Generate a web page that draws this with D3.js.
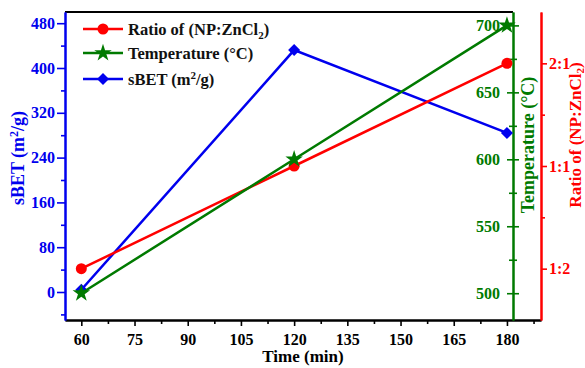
<!DOCTYPE html>
<html>
<head>
<meta charset="utf-8">
<script src="https://cdn.jsdelivr.net/npm/d3@7"></script>
<style>
  body { margin: 0; background: #fff; }
  svg text { font-family: "Liberation Serif", "Times New Roman", serif; font-weight: bold; }
  .domain { stroke-width: 2; }
  .tick line { stroke-width: 1.6; }
</style>
</head>
<body>
<svg id="chart" width="585" height="368"></svg>
<script>
'use strict';

// values
var times = [60, 120, 180];
var sbet = [4, 432, 284];
var temperature = [500, 600, 700];
var ratio = ['1:2', '1:1', '2:1'];
var ratioLevels = ['1:2', '1:1', '2:1'];

var timeTicks = [60, 75, 90, 105, 120, 135, 150, 165, 180];
var sbetTicks = [0, 80, 160, 240, 320, 400, 480];
var tempTicks = [500, 550, 600, 650, 700];

var RED = '#ff0000', GREEN = '#007a00', BLUE = '#0000ee';

var svg = d3.select('#chart');

var plotLeft = 65, plotRight = 541, plotTop = 12, plotBottom = 320, greenX = 513;

var x = d3.scaleLinear().domain([55.4, 189.6]).range([plotLeft, plotRight]);
var ySbet = d3.scaleLinear().domain([-50, 500]).range([plotBottom, plotTop]);
var yTemp = d3.scaleLinear().domain([480, 710]).range([plotBottom, plotTop]);
var yRatio = d3.scaleLinear().domain([0.5, 3.5]).range([plotBottom, plotTop]);
function ratioPos(r) { return ratioLevels.indexOf(r) + 1; }

function styleAxis(g, color, size) {
	g.select('.domain').attr('stroke', color).attr('stroke-width', 2);
	g.selectAll('.tick line').attr('stroke', color);
	g.selectAll('.tick text').attr('fill', color).style('font-size', size + 'px');
}

// top frame line
svg.append('line')
	.attr('x1', plotLeft).attr('x2', greenX)
	.attr('y1', plotTop).attr('y2', plotTop)
	.attr('stroke', '#000').attr('stroke-width', 2);

// x axis (minor then major)
var minorX = [];
for (var t = 67.5; t < 189; t += 15) minorX.push(t);
svg.append('g').attr('transform', 'translate(0,' + plotBottom + ')')
	.call(d3.axisBottom(x).tickValues(minorX).tickSize(4).tickSizeOuter(0).tickFormat(''))
	.call(styleAxis, '#000', 16);
svg.append('g').attr('transform', 'translate(0,' + plotBottom + ')')
	.call(d3.axisBottom(x).tickValues(timeTicks).tickSize(6).tickSizeOuter(0).tickPadding(8))
	.call(styleAxis, '#000', 16);

// left sBET axis
svg.append('g').attr('transform', 'translate(' + plotLeft + ',0)')
	.call(d3.axisLeft(ySbet).tickValues([-40, 40, 120, 200, 280, 360, 440]).tickSize(4).tickSizeOuter(0).tickFormat(''))
	.call(styleAxis, BLUE, 16);
svg.append('g').attr('transform', 'translate(' + plotLeft + ',0)')
	.call(d3.axisLeft(ySbet).tickValues(sbetTicks).tickSize(8).tickSizeOuter(0).tickPadding(2))
	.call(styleAxis, BLUE, 16);

// green temperature axis (ticks cross the line)
var gMinor = svg.append('g').attr('transform', 'translate(' + greenX + ',0)')
	.call(d3.axisLeft(yTemp).tickValues([525, 575, 625, 675]).tickSize(4).tickSizeOuter(0).tickFormat(''))
	.call(styleAxis, GREEN, 16);
gMinor.selectAll('.tick line').attr('x1', 4);
var gTemp = svg.append('g').attr('transform', 'translate(' + greenX + ',0)')
	.call(d3.axisLeft(yTemp).tickValues(tempTicks).tickSize(6).tickSizeOuter(0).tickPadding(7))
	.call(styleAxis, GREEN, 16);
gTemp.selectAll('.tick line').attr('x1', 6);

// red ratio axis
svg.append('g').attr('transform', 'translate(' + plotRight + ',0)')
	.call(d3.axisRight(yRatio).tickValues([1.5, 2.5]).tickSize(4).tickSizeOuter(0).tickFormat(''))
	.call(styleAxis, RED, 16);
svg.append('g').attr('transform', 'translate(' + plotRight + ',0)')
	.call(d3.axisRight(yRatio).tickValues([1, 2, 3]).tickSize(6).tickSizeOuter(0).tickPadding(2)
		.tickFormat(function(d) { return ratioLevels[d - 1]; }))
	.call(styleAxis, RED, 16);

// axis titles
svg.append('text').attr('x', 303).attr('y', 362).attr('text-anchor', 'middle')
	.style('font-size', '17px').attr('fill', '#000').text('Time (min)');

var tl = svg.append('text').attr('transform', 'translate(24,158) rotate(-90)')
	.attr('text-anchor', 'middle').style('font-size', '18px').attr('fill', BLUE);
tl.append('tspan').text('sBET (m');
tl.append('tspan').attr('dy', -6).style('font-size', '12px').text('2');
tl.append('tspan').attr('dy', 6).text('/g)');

svg.append('text').attr('transform', 'translate(534,145) rotate(-90)')
	.attr('text-anchor', 'middle').style('font-size', '18px').attr('fill', GREEN)
	.text('Temperature (°C)');

var tr = svg.append('text').attr('transform', 'translate(581,135) rotate(-90)')
	.attr('text-anchor', 'middle').style('font-size', '17px').attr('fill', RED);
tr.append('tspan').text('Ratio of (NP:ZnCl');
tr.append('tspan').attr('dy', 3).style('font-size', '11px').text('2');
tr.append('tspan').attr('dy', -3).text(')');

// markers: diamond is a square turned 45 degrees
var markers = {
	circle: { type: d3.symbolCircle, size: 95, rot: 0 },
	star: { type: d3.symbolStar, size: 95, rot: 0 },
	diamond: { type: d3.symbolSquare, size: 72, rot: 45 }
};

// series
var series = [
	{ name: 'sbet', color: BLUE, marker: 'diamond',
		pts: times.map(function(t, i) { return [x(t), ySbet(sbet[i])]; }) },
	{ name: 'ratio', color: RED, marker: 'circle',
		pts: times.map(function(t, i) { return [x(t), yRatio(ratioPos(ratio[i]))]; }) },
	{ name: 'temp', color: GREEN, marker: 'star',
		pts: times.map(function(t, i) { return [x(t), yTemp(temperature[i])]; }) }
];

function drawMarker(px, py, m, color) {
	var mk = markers[m];
	svg.append('path')
		.attr('transform', 'translate(' + px + ',' + py + ') rotate(' + mk.rot + ')')
		.attr('d', d3.symbol().type(mk.type).size(mk.size))
		.attr('fill', color);
}

var line = d3.line();
series.forEach(function(s) {
	svg.append('path').attr('d', line(s.pts))
		.attr('fill', 'none').attr('stroke', s.color).attr('stroke-width', 2.5);
	s.pts.forEach(function(p) { drawMarker(p[0], p[1], s.marker, s.color); });
});

// legend
var legend = [
	{ label: ['Ratio of (NP:ZnCl', '2', ')'], color: RED, marker: 'circle' },
	{ label: ['Temperature (°C)'], color: GREEN, marker: 'star' },
	{ label: ['sBET (m', '2', '/g)'], color: BLUE, marker: 'diamond' }
];
var legendY = [29, 53, 79];
legend.forEach(function(l, i) {
	var y = legendY[i];
	svg.append('line').attr('x1', 83).attr('x2', 123).attr('y1', y).attr('y2', y)
		.attr('stroke', l.color).attr('stroke-width', 2.5);
	drawMarker(103, y, l.marker, l.color);
	var txt = svg.append('text').attr('x', 128).attr('y', y + 5.5)
		.style('font-size', '16.5px').attr('fill', '#111');
	txt.append('tspan').text(l.label[0]);
	if (l.label.length > 1) {
		var sub = i === 0;
		txt.append('tspan').attr('dy', sub ? 4 : -6).style('font-size', '11px').text(l.label[1]);
		txt.append('tspan').attr('dy', sub ? -4 : 6).text(l.label[2]);
	}
});
</script>
</body>
</html>
